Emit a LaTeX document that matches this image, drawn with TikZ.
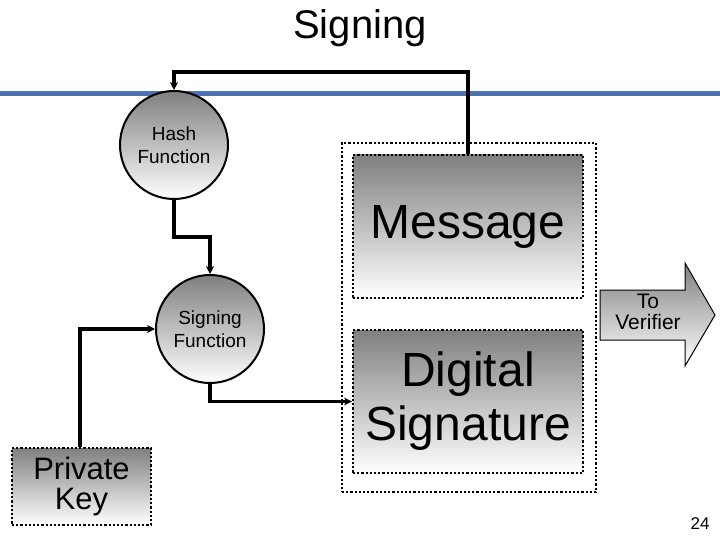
\documentclass[tikz,border=0pt]{standalone}
\usepackage{fontspec}
\setmainfont{Liberation Sans}
\usetikzlibrary{arrows.meta}
\begin{document}
\begin{tikzpicture}[x=1pt,y=-1pt,
  shade box/.style={draw=black, line width=2.2pt, dotted, top color=black!50, bottom color=white, inner sep=0pt},
  circ/.style={circle, draw=black, line width=2pt, top color=black!50, bottom color=white, minimum size=108pt, inner sep=0pt, align=center, font=\fontsize{19}{23}\selectfont},
  conn/.style={line width=3.2pt, -{Stealth[length=8pt,width=8pt]}}]
\useasboundingbox (0,0) rectangle (720,540);
\node (title) at (360,28) {\fontsize{40}{44}\selectfont Signing};
\fill[color={rgb,255:red,79;green,114;blue,176}] (0,91.5) rectangle (720,96.5);
\node[draw=black, line width=2.2pt, dotted, minimum width=254pt, minimum height=349pt, inner sep=0pt] (outer) at (469,317.5) {};
\node[shade box, minimum width=230pt, minimum height=143pt, font=\fontsize{48}{52}\selectfont] (msg) at (468,226.5) {Message};
\node[shade box, minimum width=230pt, minimum height=143pt, align=center, font=\fontsize{48}{54}\selectfont] (ds) at (468,401.5) {Digital\\Signature};
\node[shade box, minimum width=139pt, minimum height=77pt, align=center, font=\fontsize{31}{30}\selectfont] (pk) at (81.5,486.5) {Private\\Key};
\node[circ] (hash) at (174,145) {Hash\\Function};
\node[circ] (sign) at (210,329) {Signing\\Function};
\shade[draw=black, line width=1pt, top color=black!50, bottom color=white]
  (600,290) -- (685,290) -- (685,263) -- (715,315) -- (685,366) -- (685,340) -- (600,340) -- cycle;
\node[align=center, font=\fontsize{21}{21}\selectfont] (tov) at (648,312) {To\\Verifier};
\draw[conn] (msg.north) -- (468,72) -| (hash.north);
\draw[conn] (hash.south) -- (174,237) -| (sign.north);
\draw[conn] (pk.north -| 80,448) |- (sign.west);
\draw[conn] (sign.south) |- (ds.west);
\node (pg) at (700,524) {\fontsize{17}{18}\selectfont 24};
\end{tikzpicture}
\end{document}
